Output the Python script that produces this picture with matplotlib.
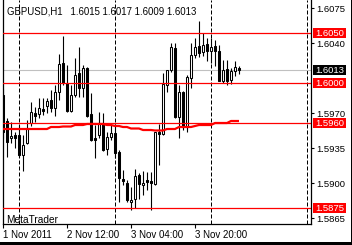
import matplotlib
matplotlib.use("Agg")
import matplotlib.pyplot as plt
import matplotlib.transforms as mtransforms
from matplotlib.patches import Rectangle
import numpy as np

plt.rcParams['font.family'] = ['Liberation Sans', 'DejaVu Sans']

# ---- data (H1 bars, GBPUSD) ----
opens = [1.5988, 1.5962, 1.5945, 1.5948, 1.5948, 1.5928, 1.5940, 1.5960, 1.5970, 1.5969,
         1.5974, 1.5977, 1.5983, 1.5975, 1.5991, 1.6020, 1.6000, 1.5972, 1.5988, 1.6010,
         1.5995, 1.6015, 1.5969, 1.5945, 1.5948, 1.5960, 1.5934, 1.5946, 1.5950, 1.5931,
         1.5904, 1.5900, 1.5881, 1.5884, 1.5908, 1.5898, 1.5903, 1.5902, 1.5899, 1.5951,
         1.5949, 1.5998, 1.6013, 1.6035, 1.5966, 1.5991, 1.5956, 1.6005, 1.6028, 1.6037,
         1.6031, 1.6039, 1.6032, 1.6037, 1.6032, 1.6002, 1.6014, 1.6003, 1.6012, 1.6015]
highs = [1.5994, 1.5965, 1.5961, 1.5951, 1.5958, 1.5948, 1.5963, 1.5981, 1.5976, 1.5985,
         1.5985, 1.5985, 1.5993, 1.5998, 1.6029, 1.6047, 1.6018, 1.5998, 1.6025, 1.6036,
         1.6018, 1.6016, 1.5990, 1.5958, 1.5971, 1.5970, 1.5951, 1.5958, 1.5959, 1.5933,
         1.5913, 1.5903, 1.5896, 1.5914, 1.5910, 1.5912, 1.5911, 1.5911, 1.5951, 1.5959,
         1.6010, 1.6013, 1.6040, 1.6040, 1.5998, 1.5992, 1.6008, 1.6040, 1.6045, 1.6062,
         1.6050, 1.6045, 1.6045, 1.6043, 1.6038, 1.6023, 1.6023, 1.6015, 1.6022, 1.6017]
lows = [1.5945, 1.5926, 1.5940, 1.5935, 1.5926, 1.5912, 1.5939, 1.5957, 1.5961, 1.5965,
        1.5968, 1.5970, 1.5971, 1.5967, 1.5983, 1.5998, 1.5971, 1.5971, 1.5986, 1.5986,
        1.5986, 1.5966, 1.5942, 1.5925, 1.5945, 1.5932, 1.5928, 1.5943, 1.5925, 1.5881,
        1.5898, 1.5881, 1.5873, 1.5875, 1.5884, 1.5888, 1.5893, 1.5873, 1.5898, 1.5918,
        1.5948, 1.5991, 1.6011, 1.5965, 1.5945, 1.5953, 1.5951, 1.5995, 1.6025, 1.6026,
        1.6027, 1.6022, 1.6020, 1.6017, 1.6002, 1.6000, 1.5998, 1.5999, 1.6007, 1.6009]
closes = [1.5951, 1.5941, 1.5947, 1.5945, 1.5928, 1.5938, 1.5955, 1.5971, 1.5967, 1.5975,
          1.5972, 1.5982, 1.5975, 1.5991, 1.6019, 1.6000, 1.5972, 1.5988, 1.6008, 1.5995,
          1.6015, 1.5967, 1.5943, 1.5943, 1.5960, 1.5933, 1.5946, 1.5950, 1.5930, 1.5905,
          1.5902, 1.5883, 1.5883, 1.5907, 1.5899, 1.5900, 1.5901, 1.5900, 1.5951, 1.5949,
          1.5999, 1.6013, 1.6036, 1.5966, 1.5991, 1.5956, 1.6006, 1.6028, 1.6036, 1.6030,
          1.6038, 1.6032, 1.6036, 1.6032, 1.6002, 1.6013, 1.6002, 1.6012, 1.6016, 1.6013]
moving_avg = [1.5954, 1.5954, 1.5954, 1.5954, 1.5954, 1.5954, 1.5954, 1.5954, 1.5954, 1.5954,
              1.5954, 1.5954, 1.5956, 1.5956, 1.5956, 1.59565, 1.59565, 1.59565, 1.5958, 1.5958,
              1.5958, 1.5959, 1.5959, 1.5959, 1.5959, 1.5959, 1.5958, 1.5958, 1.5957, 1.5957,
              1.5956, 1.5956, 1.59545, 1.59545, 1.59545, 1.5953, 1.5953, 1.5953, 1.59525, 1.59525,
              1.59525, 1.5954, 1.5954, 1.5954, 1.5956, 1.5956, 1.5956, 1.5956, 1.5957, 1.5958,
              1.5958, 1.5958, 1.5958, 1.5960, 1.5960, 1.5960, 1.5960, 1.5962, 1.5962, 1.5962]

red_levels = [1.6050, 1.6000, 1.5960, 1.5875]
bid_price = 1.6013
ytick_values = [1.6075, 1.6040, 1.5970, 1.5935, 1.5900, 1.5865]
xtick_bars = [0, 16, 32, 48]
xtick_labels = ["1 Nov 2011", "2 Nov 12:00", "3 Nov 04:00", "3 Nov 20:00"]
day_separators = [4, 28, 52, 76]
title_text = "GBPUSD,H1   1.6015 1.6017 1.6009 1.6013"

# ---- figure ----
W, H = 352, 245
fig = plt.figure(figsize=(W / 100, H / 100), dpi=100)
fig.patch.set_facecolor("white")
ax = fig.add_axes([2.5 / W, (H - 224) / H, 308 / W, 224 / H])
ax.set_facecolor("white")

n = np.arange(len(opens))
o = np.array(opens); h = np.array(highs); l = np.array(lows); c = np.array(closes)

ax.set_xlim(-0.125, 76.875)
ax.set_ylim(1.5859, 1.6083)

# day separators
for d in day_separators:
    ax.axvline(d, color="black", lw=0.72, linestyle=(0, (4, 2)), zorder=1)

# bid line
ax.axhline(bid_price, color="#c0c0c0", lw=0.8, zorder=1)

# wicks
ax.vlines(n, l, h, color="black", lw=0.8, zorder=3)
# bodies
bull = c >= o
bot = np.minimum(o, c)
hgt = np.maximum(np.abs(c - o), 0.00005)
ax.bar(n[bull], hgt[bull], bottom=bot[bull], width=0.55, color="white",
       edgecolor="black", linewidth=0.75, zorder=4)
ax.bar(n[~bull], hgt[~bull], bottom=bot[~bull], width=0.55, color="black",
       edgecolor="black", linewidth=0.75, zorder=4)

# moving average
ax.plot(n, moving_avg, color="#ff0000", lw=1.6, zorder=5, solid_capstyle="butt")

# red horizontal levels
for lv in red_levels:
    ax.axhline(lv, color="#ff0000", lw=0.9, zorder=6)

# spines and ticks
ax.spines["top"].set_visible(False)
for s in ["left", "right", "bottom"]:
    ax.spines[s].set_linewidth(0.9)
    ax.spines[s].set_color("black")
ax.yaxis.tick_right()
ax.set_yticks(ytick_values)
ax.set_yticklabels([f"{v:.4f}" for v in ytick_values])
ax.tick_params(axis="y", which="both", direction="out", length=2, width=0.8,
               pad=2.3, labelsize=6.8, left=False, right=True)
ax.set_xticks(xtick_bars)
ax.set_xticklabels(xtick_labels)
for lab in ax.get_xticklabels():
    lab.set_horizontalalignment("left")
ax.tick_params(axis="x", direction="out", length=3, width=0.8, pad=1.5, labelsize=7)

# price label boxes on the right axis
bt = mtransforms.blended_transform_factory(fig.transFigure, ax.transData)
box_h = 0.00104
for lv in red_levels + [bid_price]:
    fc = "black" if lv == bid_price else "#ff0000"
    ax.add_patch(Rectangle((313 / W, lv - box_h / 2), 33 / W, box_h, transform=bt,
                           facecolor=fc, edgecolor="none", clip_on=False, zorder=10))
    ax.text(315.3 / W, lv, f"{lv:.4f}", transform=bt, color="white", fontsize=6.8,
            va="center", ha="left", clip_on=False, zorder=11)

# texts
fig.text(7.3 / W, 1 - 11.5 / H, title_text, fontsize=6.9, va="center", ha="left")
fig.text(6 / W, 1 - 219.5 / H, "MetaTrader", fontsize=7.3, va="center", ha="left")

# window frame (black bands)
fig.patches.append(Rectangle((0, 0), 1, 3 / H, transform=fig.transFigure,
                             facecolor="black", edgecolor="none"))
fig.patches.append(Rectangle((351 / W, 0), 1 / W, 1, transform=fig.transFigure,
                             facecolor="black", edgecolor="none"))

fig.savefig("out.png", dpi=100, facecolor="white")
